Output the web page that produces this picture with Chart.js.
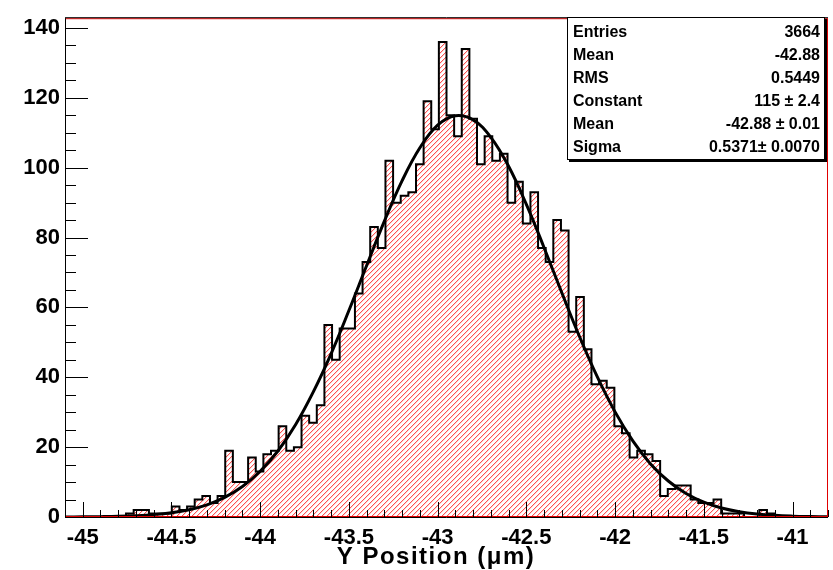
<!DOCTYPE html>
<html>
<head>
<meta charset="utf-8">
<script src="https://cdn.jsdelivr.net/npm/chart.js@4.4.0/dist/chart.umd.min.js"></script>
<style>
html, body { margin: 0; padding: 0; background: #fff; }
#wrap { width: 833px; height: 570px; }
</style>
</head>
<body>
<div id="wrap"><canvas id="histo" width="833" height="570"></canvas></div>
<script>
'use strict';

// ── Histogram: 100 bins from -45.1 to -40.8 ───────────────
const X_MIN = -45.1;
const X_MAX = -40.8;
const N_BINS = 100;
const Y_MAX = 142.8;

const counts = [
    0, 0, 0, 0, 0, 0, 0, 0, 1, 2,
    2, 1, 1, 1, 3, 2, 3, 5, 6, 4,
    6, 19, 10, 10, 17, 13, 18, 19, 26, 19,
    20, 29, 27, 32, 55, 45, 54, 54, 64, 73,
    83, 77, 102, 90, 92, 93, 101, 119, 111, 136,
    115, 109, 134, 114, 101, 109, 102, 104, 90, 96,
    84, 93, 77, 73, 85, 82, 53, 63, 48, 38,
    39, 37, 26, 24, 17, 19, 18, 16, 6, 8,
    9, 9, 5, 4, 4, 5, 1, 1, 1, 0,
    0, 2, 1, 0, 0, 0, 0, 0, 0, 0
];

// ── Gaussian fit curve ───────────────────────────────────
const fitX = [
    -45.1, -45.0, -44.9, -44.8, -44.7, -44.6, -44.5, -44.4, -44.3, -44.2,
    -44.1, -44.0, -43.9, -43.8, -43.7, -43.6, -43.5, -43.4, -43.3, -43.2,
    -43.1, -43.0, -42.9, -42.8, -42.7, -42.6, -42.5, -42.4, -42.3, -42.2,
    -42.1, -42.0, -41.9, -41.8, -41.7, -41.6, -41.5, -41.4, -41.3, -41.2,
    -41.1, -41.0, -40.9, -40.8
];
const fitY = [
    0.02, 0.05, 0.1, 0.19, 0.37, 0.68, 1.22, 2.1, 3.49, 5.61,
    8.71, 13.1, 18.9, 26.5, 35.9, 46.8, 59.1, 72.0, 84.7, 96.3,
    105.7, 112.2, 114.9, 113.7, 108.7, 100.4, 89.5, 77.1, 64.2, 51.6,
    40.1, 30.1, 21.8, 15.2, 10.3, 6.72, 4.24, 2.58, 1.52, 0.86,
    0.47, 0.25, 0.13, 0.06
];

const xTicks = [-45, -44.5, -44, -43.5, -43, -42.5, -42, -41.5, -41];
const yTicks = [0, 20, 40, 60, 80, 100, 120, 140];
const xTitle = 'Y Position (\u03bcm)';

const statNames  = ['Entries', 'Mean', 'RMS', 'Constant', 'Mean', 'Sigma'];
const statValues = ['3664', '-42.88', '0.5449', '115 \u00b1 2.4', '-42.88 \u00b1 0.01', '0.5371\u00b1 0.0070'];

const FONT = '"Liberation Sans", Arial, Helvetica, sans-serif';

// ── step outline points (bin edges) ──────────────────────
const binW = (X_MAX - X_MIN) / N_BINS;
const histPts = [{ x: X_MIN, y: 0 }];
counts.forEach((c, i) => histPts.push({ x: X_MIN + i * binW, y: c }));
histPts.push({ x: X_MAX, y: counts[N_BINS - 1] });
histPts.push({ x: X_MAX, y: 0 });

const fitPts = fitX.map((x, i) => ({ x, y: fitY[i] }));

// ── red "/" hatch (ROOT fill 3004), clipped to the outline ─
const hatchFill = {
    id: 'hatchFill',
    beforeDatasetDraw(chart, args) {
        if (args.index !== 1) return;
        const { ctx, chartArea: a } = chart;
        ctx.save();
        ctx.beginPath();
        args.meta.dataset.path(ctx);
        ctx.closePath();
        ctx.clip();
        ctx.strokeStyle = 'rgba(255,0,0,0.85)';
        ctx.lineWidth = 1;
        ctx.beginPath();
        const h = a.bottom - a.top;
        for (let x0 = a.left - h; x0 < a.right; x0 += 5) {
            ctx.moveTo(x0, a.bottom);
            ctx.lineTo(x0 + h, a.top);
        }
        ctx.stroke();
        ctx.restore();
    }
};

// ── frame, inward ticks, axis title, stats box ───────────
const rootFrame = {
    id: 'rootFrame',
    afterDatasetsDraw(chart) {
        const { ctx, chartArea: a, scales: { x, y } } = chart;
        ctx.save();
        ctx.lineWidth = 1;
        ctx.strokeStyle = '#e00000';
        ctx.strokeRect(a.left + 0.5, a.top + 0.5, a.right - a.left - 1, a.bottom - a.top - 1);
        ctx.strokeStyle = '#000';
        ctx.beginPath();
        ctx.moveTo(a.left + 0.5, a.top);
        ctx.lineTo(a.left + 0.5, a.bottom + 0.5);
        ctx.lineTo(a.right, a.bottom + 0.5);
        ctx.moveTo(a.left, a.top - 0.5);
        ctx.lineTo(a.right, a.top - 0.5);
        ctx.stroke();

        // y ticks: major every 20, minor every 5
        ctx.beginPath();
        for (let v = 0; v <= Y_MAX; v += 5) {
            const py = Math.round(y.getPixelForValue(v)) + 0.5;
            const len = v % 20 === 0 ? 23 : 11;
            ctx.moveTo(a.left, py);
            ctx.lineTo(a.left + len, py);
        }
        // x ticks: major every 0.5, minor every 0.1
        for (let k = Math.ceil(X_MIN * 10); k <= Math.floor(X_MAX * 10); k++) {
            const px = Math.round(x.getPixelForValue(k / 10)) + 0.5;
            const len = k % 5 === 0 ? 15 : 7;
            ctx.moveTo(px, a.bottom);
            ctx.lineTo(px, a.bottom - len);
        }
        ctx.stroke();

        // x axis title
        ctx.fillStyle = '#000';
        ctx.font = 'bold 24px ' + FONT;
        ctx.letterSpacing = '1.5px';
        ctx.textAlign = 'center';
        ctx.textBaseline = 'alphabetic';
        ctx.fillText(xTitle, 436, 564);
        ctx.letterSpacing = '0px';

        // stats box
        const bx = 567, by = 17, bw = 258, bh = 143;
        ctx.fillRect(bx + 2, by + 2, bw, bh);
        ctx.fillStyle = '#fff';
        ctx.fillRect(bx, by, bw, bh);
        ctx.strokeRect(bx + 0.5, by + 0.5, bw - 1, bh - 1);
        ctx.font = 'bold 16px ' + FONT;
        ctx.textBaseline = 'middle';
        ctx.fillStyle = '#000';
        statNames.forEach((n, i) => {
            const ty = by + 16 + 23 * i;
            ctx.textAlign = 'left';
            ctx.fillText(n, bx + 6, ty);
            ctx.textAlign = 'right';
            ctx.fillText(statValues[i], bx + bw - 5, ty);
        });
        ctx.restore();
    }
};

new Chart(document.getElementById('histo'), {
    type: 'line',
    data: {
        datasets: [
            {
                label: 'fit',
                data: fitPts,
                borderColor: '#000',
                borderWidth: 3,
                pointRadius: 0,
                tension: 0.4,
                fill: false,
                order: 0,
            },
            {
                label: 'Y position',
                data: histPts,
                stepped: 'before',
                borderColor: '#000',
                borderWidth: 2,
                borderJoinStyle: 'miter',
                pointRadius: 0,
                fill: false,
                order: 1,
            },
        ]
    },
    options: {
        responsive: false,
        animation: false,
        events: [],
        layout: { padding: { top: 6, right: 5, left: 0, bottom: 0 } },
        plugins: {
            legend: { display: false },
            tooltip: { enabled: false },
        },
        scales: {
            x: {
                type: 'linear',
                min: X_MIN,
                max: X_MAX,
                grid: { display: false, drawTicks: false },
                border: { display: false },
                afterBuildTicks: s => { s.ticks = xTicks.map(v => ({ value: v })); },
                afterFit: s => { s.height = 53; },
                ticks: {
                    autoSkip: false,
                    maxRotation: 0,
                    padding: 8,
                    color: '#000',
                    font: { family: FONT, size: 22, weight: 'bold' },
                    callback: v => String(v),
                },
            },
            y: {
                type: 'linear',
                min: 0,
                max: Y_MAX,
                grid: { display: false, drawTicks: false },
                border: { display: false },
                afterBuildTicks: s => { s.ticks = yTicks.map(v => ({ value: v })); },
                afterFit: s => { s.width = 65; },
                ticks: {
                    autoSkip: false,
                    padding: 5,
                    color: '#000',
                    font: { family: FONT, size: 22, weight: 'bold' },
                },
            },
        }
    },
    plugins: [hatchFill, rootFrame]
});
</script>
</body>
</html>
